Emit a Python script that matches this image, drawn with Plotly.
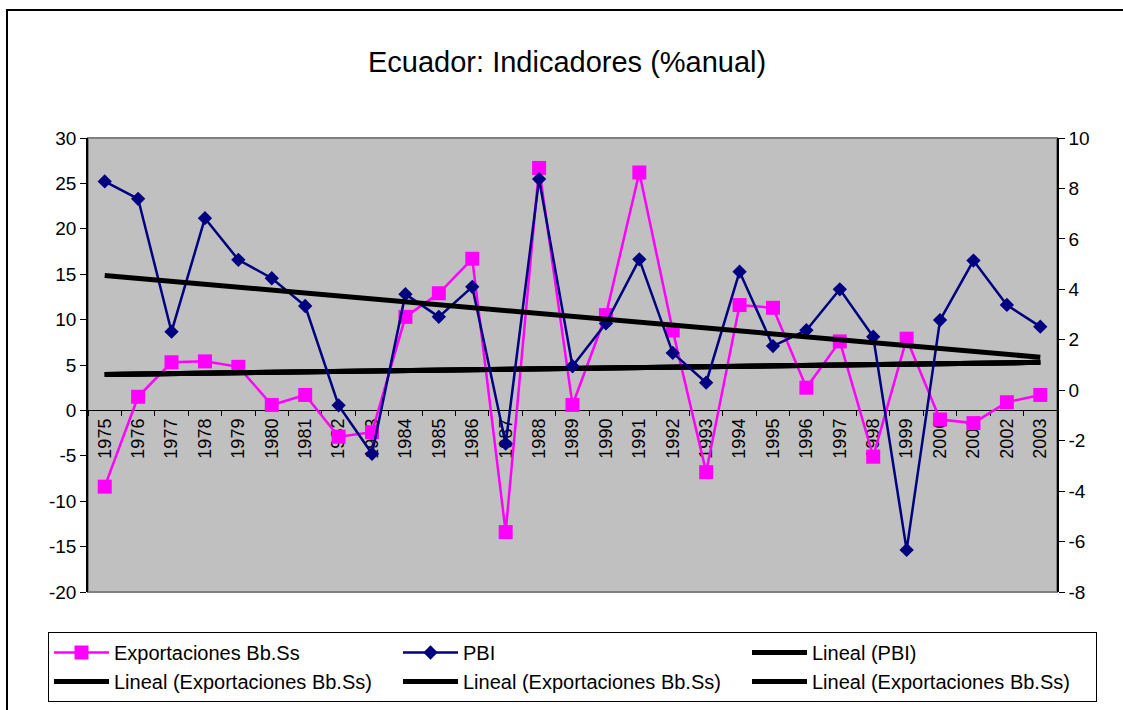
import numpy as np
import plotly.graph_objects as go

years = [str(y) for y in range(1975, 2004)]
exportaciones = [-8.4, 1.5, 5.3, 5.4, 4.8, 0.6, 1.7, -2.9, -2.4, 10.3, 12.9, 16.7, -13.4, 26.7,
                 0.6, 10.5, 26.2, 8.8, -6.8, 11.6, 11.3, 2.5, 7.6, -5.1, 7.9, -1.0, -1.4, 0.9, 1.7]
pbi = [8.28, 7.59, 2.32, 6.82, 5.17, 4.44, 3.34, -0.6, -2.52, 3.81, 2.91, 4.10, -2.12, 8.37,
       0.95, 2.65, 5.19, 1.48, 0.30, 4.70, 1.75, 2.38, 4.00, 2.12, -6.33, 2.78, 5.14, 3.38, 2.52]

title_text = "Ecuador: Indicadores (%anual)"
left_ticks = [-20, -15, -10, -5, 0, 5, 10, 15, 20, 25, 30]
left_labels = ["-20", "-15", "-10", "-5", "0", "5", "10", "15", "20", "25", "30"]
right_ticks = [-8, -6, -4, -2, 0, 2, 4, 6, 8, 10]
right_labels = ["-8", "-6", "-4", "-2", "0", "2", "4", "6", "8", "10"]

# linear trends (Excel "Lineal" trendlines)
idx = np.arange(1, len(years) + 1)
c_exp = np.polyfit(idx, exportaciones, 1)
c_pbi = np.polyfit(idx, pbi, 1)
trend_exp = np.polyval(c_exp, idx)
trend_pbi = np.polyval(c_pbi, idx)

FONT = "Arial, Liberation Sans, sans-serif"
MAG = "#FF00FF"
NAVY = "#000080"

fig = go.Figure()
fig.add_trace(go.Scatter(x=years, y=exportaciones, name="Exportaciones Bb.Ss", mode="lines+markers",
                         line=dict(color=MAG, width=2.5),
                         marker=dict(symbol="square", size=14, color=MAG), yaxis="y"))
fig.add_trace(go.Scatter(x=years, y=pbi, name="PBI", mode="lines+markers",
                         line=dict(color=NAVY, width=2.5),
                         marker=dict(symbol="diamond", size=11, color=NAVY), yaxis="y2"))
fig.add_trace(go.Scatter(x=years, y=trend_pbi, name="Lineal (PBI)", mode="lines",
                         line=dict(color="black", width=5), yaxis="y2"))
for _ in range(3):
    fig.add_trace(go.Scatter(x=years, y=trend_exp, name="Lineal (Exportaciones Bb.Ss)", mode="lines",
                             line=dict(color="black", width=5), yaxis="y"))

W, H = 1123, 710
L, R, T, B = 88, 66, 138, 118
pw = W - L - R
ph = H - T - B

def px_x(p):
    return (p - L) / pw

def px_y(p):
    return (H - B - p) / ph

fig.update_layout(
    width=W, height=H,
    margin=dict(l=L, r=R, t=T, b=B, autoexpand=False),
    paper_bgcolor="white",
    plot_bgcolor="rgba(0,0,0,0)",
    font=dict(family=FONT, size=18, color="black"),
    title=dict(text=title_text, x=0.505, xanchor="center", y=1 - 62 / H, yanchor="middle",
               font=dict(family=FONT, size=29, color="black")),
    xaxis=dict(type="category", categoryarray=years, range=[-0.5, len(years) - 0.5],
               anchor="free", position=0.4, showline=True, linecolor="black", linewidth=1,
               ticks="outside", tickson="boundaries", ticklen=5, tickcolor="black",
               tickangle=-90, showgrid=False, zeroline=False, layer="below traces",
               tickfont=dict(size=18)),
    yaxis=dict(range=[-20, 30], tickvals=left_ticks, ticktext=left_labels, tickmode="array",
               showline=True, linecolor="black", linewidth=1.5,
               ticks="outside", ticklen=6, tickcolor="black", showgrid=False, zeroline=False,
               tickfont=dict(size=19)),
    yaxis2=dict(range=[-8, 10], tickvals=right_ticks, ticktext=right_labels, tickmode="array",
                overlaying="y", side="right",
                showline=True, linecolor="black", linewidth=1.5, ticks="outside", ticklen=6,
                tickcolor="black", showgrid=False, zeroline=False, tickfont=dict(size=19)),
    showlegend=True,
    legend=dict(orientation="h", x=px_x(48), xanchor="left", y=px_y(632), yanchor="top",
                entrywidth=279, entrywidthmode="pixels", itemwidth=55,
                bordercolor="black", borderwidth=1, bgcolor="white",
                font=dict(family=FONT, size=20, color="black"), traceorder="normal"),
    shapes=[
        dict(type="rect", xref="paper", yref="paper", x0=0, x1=1, y0=0, y1=1,
             fillcolor="#C0C0C0", line=dict(color="#808080", width=2), layer="below"),
        dict(type="rect", xref="paper", yref="paper", x0=px_x(7), x1=px_x(1130),
             y0=px_y(720), y1=px_y(10), fillcolor="rgba(0,0,0,0)",
             line=dict(color="black", width=2), layer="below"),
    ],
)

fig.write_html("out.html", config={"displayModeBar": False},
               post_script="document.body.style.margin='0px';")
